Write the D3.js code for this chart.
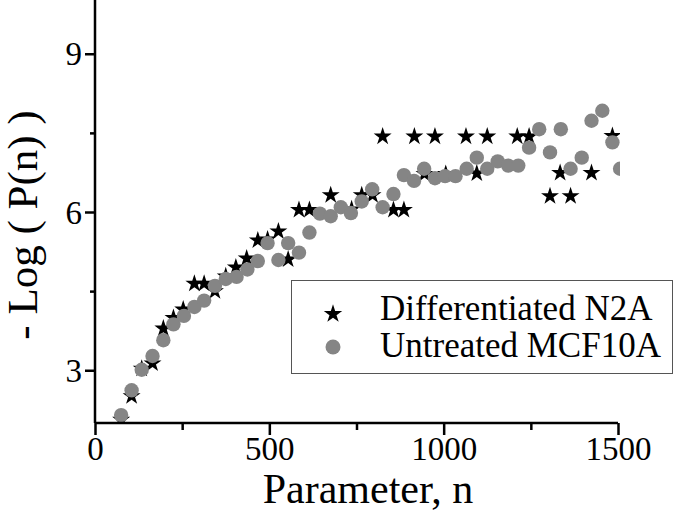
<!DOCTYPE html>
<html><head><meta charset="utf-8">
<script src="https://cdn.jsdelivr.net/npm/d3@7"></script>
<style>body{margin:0;background:#fff}svg{display:block}svg text{font-family:"Liberation Serif","Times New Roman",serif !important;fill:#000}</style>
</head><body>
<svg id="c" width="675" height="517"></svg>
<script>
const seriesNames = ["Differentiated N2A", "Untreated MCF10A"];
const n2aN = [75,105,134,165,196,225,253,285,313,344,375,404,435,467,495,526,554,585,615,676,736,765,796,825,856,886,916,945,975,1006,1064,1095,1125,1211,1245,1305,1334,1364,1424,1484];
const n2aV = [2.08,2.53,3.05,3.15,3.81,4.01,4.17,4.66,4.66,4.52,4.80,4.97,5.14,5.48,5.50,5.65,5.12,6.06,6.06,6.34,6.07,6.34,6.34,7.45,6.06,6.06,7.45,6.74,7.45,6.74,7.45,6.75,7.45,7.45,7.45,6.32,6.76,6.32,6.76,7.46];
const mcfN = [75,105,134,165,196,225,255,285,313,344,375,406,437,467,495,526,554,585,615,645,676,705,734,765,795,825,856,886,915,944,975,1004,1034,1066,1095,1125,1155,1185,1214,1245,1274,1305,1336,1364,1396,1424,1455,1484,1506];
const mcfV = [2.15,2.62,3.01,3.27,3.57,3.87,4.03,4.20,4.32,4.60,4.73,4.77,4.91,5.07,5.41,5.09,5.41,5.23,5.61,5.97,5.92,6.09,5.98,6.20,6.43,6.09,6.34,6.70,6.59,6.82,6.64,6.68,6.68,6.82,7.03,6.82,6.96,6.88,6.88,7.22,7.57,7.13,7.57,6.82,7.03,7.73,7.92,7.32,6.82];
const xMajor = [0,500,1000,1500];
const xMinor = [250,750,1250];
const yMajor = [3,6,9];
const yMinor = [4.5,7.5];

const svg = d3.select("#c");
const x = d3.scaleLinear().domain([0,1500]).range([95,618]);
const y = d3.scaleLinear().domain([2,10]).range([423,1]);
const grey = "#858585";
const serif = '"Liberation Serif","Times New Roman",serif';

svg.append("clipPath").attr("id","clip").append("rect")
  .attr("x",95).attr("y",0).attr("width",525).attr("height",423);
const plot = svg.append("g").attr("clip-path","url(#clip)");
const star = d3.symbol().type(d3.symbolStar).size(100);

plot.selectAll("path.s").data(n2aN.map((n,i)=>[n,n2aV[i]])).join("path")
  .attr("class","s").attr("d",star).attr("fill","#000")
  .attr("transform",d=>`translate(${x(d[0])},${y(d[1])+1})`);
plot.selectAll("circle").data(mcfN.map((n,i)=>[n,mcfV[i]])).join("circle")
  .attr("cx",d=>x(d[0])).attr("cy",d=>y(d[1])).attr("r",7.2).attr("fill",grey);

// axes
const xa = svg.append("g").attr("transform","translate(0,423)");
xa.call(d3.axisBottom(x).tickValues(xMajor).tickSize(12).tickFormat(d3.format("d")));
const xm = svg.append("g").attr("transform","translate(0,423)");
xm.call(d3.axisBottom(x).tickValues(xMinor).tickSize(7).tickFormat(""));
const ya = svg.append("g").attr("transform","translate(95,0)");
ya.call(d3.axisLeft(y).tickValues(yMajor).tickSize(10).tickFormat(d3.format("d")));
const ym = svg.append("g").attr("transform","translate(95,0)");
ym.call(d3.axisLeft(y).tickValues(yMinor).tickSize(5).tickFormat(""));
[xa,xm,ya,ym].forEach(g=>{
  g.attr("font-family",serif);
  g.selectAll(".domain").attr("stroke","#000").attr("stroke-width",2.5);
  g.selectAll(".tick line").attr("stroke","#000").attr("stroke-width",2.5);
});
xm.select(".domain").remove(); ym.select(".domain").remove();
xa.select(".domain").attr("d","M95,0H618");
ya.select(".domain").attr("d","M0,0V423");
xa.selectAll(".tick text").style("font-family",serif).attr("font-size",33).attr("fill","#000").attr("y",14).attr("dy","0.71em");
ya.selectAll(".tick text").style("font-family",serif).attr("font-size",33).attr("fill","#000").attr("x",-13).attr("dy","0.34em");

// titles
svg.append("text").attr("x",368).attr("y",503).attr("text-anchor","middle")
  .style("font-family",serif).attr("font-size",42).text("Parameter, n");
svg.append("text").attr("transform","translate(37,225) rotate(-90)").attr("text-anchor","middle")
  .style("font-family",serif).attr("font-size",43).text("- Log ( P(n) )");

// legend
const lg = svg.append("g");
lg.append("rect").attr("x",291.5).attr("y",280.5).attr("width",381).attr("height",93)
  .attr("fill","#fff").attr("stroke","#555").attr("stroke-width",1);
lg.append("path").attr("d",d3.symbol().type(d3.symbolStar).size(105)).attr("fill","#000")
  .attr("transform","translate(333,314)");
lg.append("circle").attr("cx",333).attr("cy",347).attr("r",7.5).attr("fill",grey);
lg.append("text").attr("x",380).attr("y",320).style("font-family",serif).attr("font-size",35).text(seriesNames[0]);
lg.append("text").attr("x",380).attr("y",357).style("font-family",serif).attr("font-size",35).text(seriesNames[1]);
</script>
</body></html>
